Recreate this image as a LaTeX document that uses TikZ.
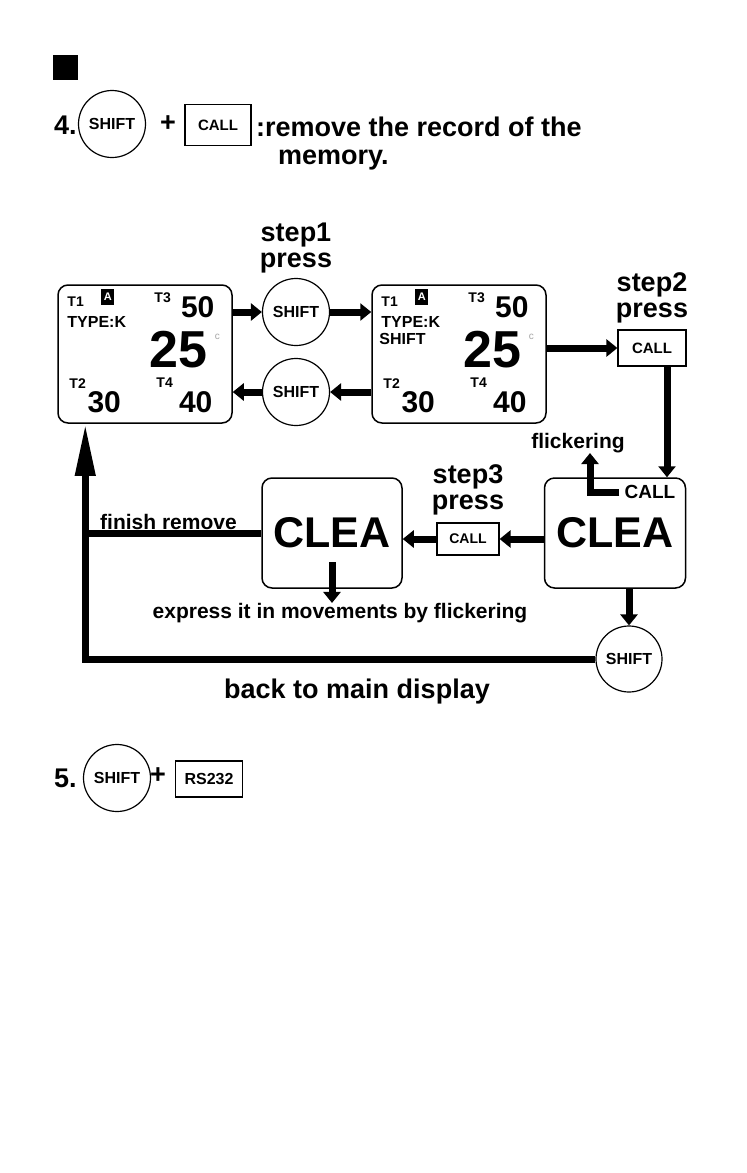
\documentclass[tikz,border=0pt]{standalone}
\usepackage{fontspec}
\setmainfont{Liberation Sans}
\usetikzlibrary{positioning,arrows.meta}

\newcommand{\bsize}[1]{\fontsize{#1}{#1}\selectfont\bfseries}

\tikzset{
  disp/.style={draw,line width=1.5pt,rounded corners=10pt,minimum width=174pt,minimum height=138pt,inner sep=0pt},
  cleabox/.style={draw,line width=1.5pt,rounded corners=10pt,minimum width=141pt,minimum height=110pt,font=\bsize{43}},
  shiftkey/.style={draw,circle,line width=1.2pt,minimum size=67pt,inner sep=0pt,font=\bsize{16}},
  callkey/.style={draw,line width=1.2pt,inner sep=0pt,font=\bsize{15}},
  flow/.style={line width=7pt,-{Triangle[length=11pt,width=17pt]}},
  tlabel/.style={inner sep=0pt,font=\bsize{14}},
  reading/.style={inner sep=0pt,font=\bsize{30}},
  steptext/.style={align=center,inner sep=0pt,font=\fontsize{27}{26}\selectfont\bfseries},
  headtext/.style={inner sep=0pt,font=\bsize{27}},
  note/.style={inner sep=0pt,font=\bsize{21}},
}

\begin{document}
\begin{tikzpicture}[x=1pt,y=-1pt]
    \fill[white] (0,0) rectangle (747,1173);
    \useasboundingbox (0,0) rectangle (747,1173);

    % item 4
    \node[fill=black,minimum size=25pt,inner sep=0pt] (mark) at (65.5,67) {};
    \node[headtext,anchor=west] (num4) at (54,125) {4.};
    \node[shiftkey] (shift0) at (112,124) {SHIFT};
    \node[headtext] (plus4) at (168,124) {+};
    \node[callkey,minimum width=66pt,minimum height=41pt] (call0) at (218,125) {CALL};
    \node[headtext,anchor=west] (title) at (256,127) {:remove the record of the};
    \node[headtext,anchor=west] (title2) at (278,160) {memory.};

    % the two main displays
    \node[disp] (disp1) at (145,354) {};
    \node[disp] (disp2) at (459,354) {};
    \foreach \d in {disp1,disp2}{
        \node[tlabel,anchor=west] (\d-t1) at ([shift={(10,17)}]\d.north west) {T1};
        \node[fill=black,text=white,inner sep=0pt,minimum width=13pt,minimum height=16pt,font=\bsize{11}] (\d-a) at ([shift={(50.5,12.5)}]\d.north west) {A};
        \node[tlabel,anchor=west] (\d-t3) at ([shift={(97,13)}]\d.north west) {T3};
        \node[reading] (\d-fifty) at ([shift={(140.5,23)}]\d.north west) {50};
        \node[tlabel,anchor=west,font=\bsize{16}] (\d-type) at ([shift={(10,38)}]\d.north west) {TYPE:K};
        \node[reading,font=\bsize{52}] (\d-main) at ([shift={(121.5,65)}]\d.north west) {25};
        \node[inner sep=0pt,text=black!35,font=\fontsize{10}{10}\selectfont] (\d-deg) at ([shift={(160,53)}]\d.north west) {c};
        \node[tlabel,anchor=west] (\d-t2) at ([shift={(12,99)}]\d.north west) {T2};
        \node[reading] (\d-thirty) at ([shift={(47,118)}]\d.north west) {30};
        \node[tlabel,anchor=west] (\d-t4) at ([shift={(99,98)}]\d.north west) {T4};
        \node[reading] (\d-forty) at ([shift={(138.5,118)}]\d.north west) {40};
    }
    \node[tlabel,anchor=west,font=\bsize{16}] (disp2-shift) at ([shift={(8,55)}]disp2.north west) {SHIFT};

    % step 1
    \node[shiftkey] (shift1) at (296,312) {SHIFT};
    \node[shiftkey] (shift2) at (296,392) {SHIFT};
    \node[steptext,above=5pt of shift1] (step1) {step1\\press};
    \draw[flow] (disp1.east |- shift1) -- (shift1.west);
    \draw[flow] (shift1.east) -- (disp2.west |- shift1);
    \draw[flow] (disp2.west |- shift2) -- (shift2.east);
    \draw[flow] (shift2.west) -- (disp1.east |- shift2);

    % step 2
    \node[callkey,minimum width=68pt,minimum height=36pt] (call2) at (652,348) {CALL};
    \node[steptext,above=6pt of call2] (step2) {step2\\press};
    \draw[flow] (disp2.east |- call2) -- (call2.west);

    \node[cleabox] (clea2) at (615,533) {CLEA};
    \node[tlabel,font=\bsize{19}] (callin) at (650,492) {CALL};
    \node[note] (flicker) at (578,443) {flickering};
    \draw[flow] ([xshift=-5pt]callin.west) -| ([xshift=12pt]flicker.south);
    \draw[flow] ([xshift=15pt]call2.south) -- ([xshift=15pt]call2.south |- clea2.north);

    % step 3
    \node[cleabox,minimum width=140pt] (clea1) at (332,533) {CLEA};
    \node[callkey,minimum width=62pt,minimum height=32pt,font=\bsize{14}] (call3) at (468,539) {CALL};
    \node[steptext,above=7pt of call3] (step3) {step3\\press};
    \draw[flow] (clea2.west |- call3) -- (call3.east);
    \draw[flow] (call3.west) -- (clea1.east |- call3);

    \node[note] (express) at (340,613) {express it in movements by flickering};
    \draw[flow] ([yshift=-29pt]clea1.center) -- (clea1.center |- express.north);

    % back to the main display
    \node[shiftkey,minimum size=66pt] (shift3) at (629,659) {SHIFT};
    \draw[flow] (clea2.south -| shift3) -- (shift3.north);
    \coordinate (corner) at ([xshift=28pt]disp1.south west |- shift3.west);
    \draw[line width=7pt,-{Triangle[length=52pt,width=19pt]}] (shift3.west) -- (corner) -- ([xshift=28pt]disp1.south west);
    \draw[line width=7pt] (clea1.west) -- (clea1.west -| corner);
    \node[note,anchor=west] (finish) at (100,522) {finish remove};
    \node[headtext] (back) at (357,692) {back to main display};

    % item 5
    \node[headtext,anchor=west] (num5) at (54,778) {5.};
    \node[shiftkey] (shift5) at (117,778) {SHIFT};
    \node[headtext] (plus5) at (158,776) {+};
    \node[callkey,minimum width=67pt,minimum height=36pt,font=\bsize{16}] (rs232) at (209,779) {RS232};
\end{tikzpicture}
\end{document}
